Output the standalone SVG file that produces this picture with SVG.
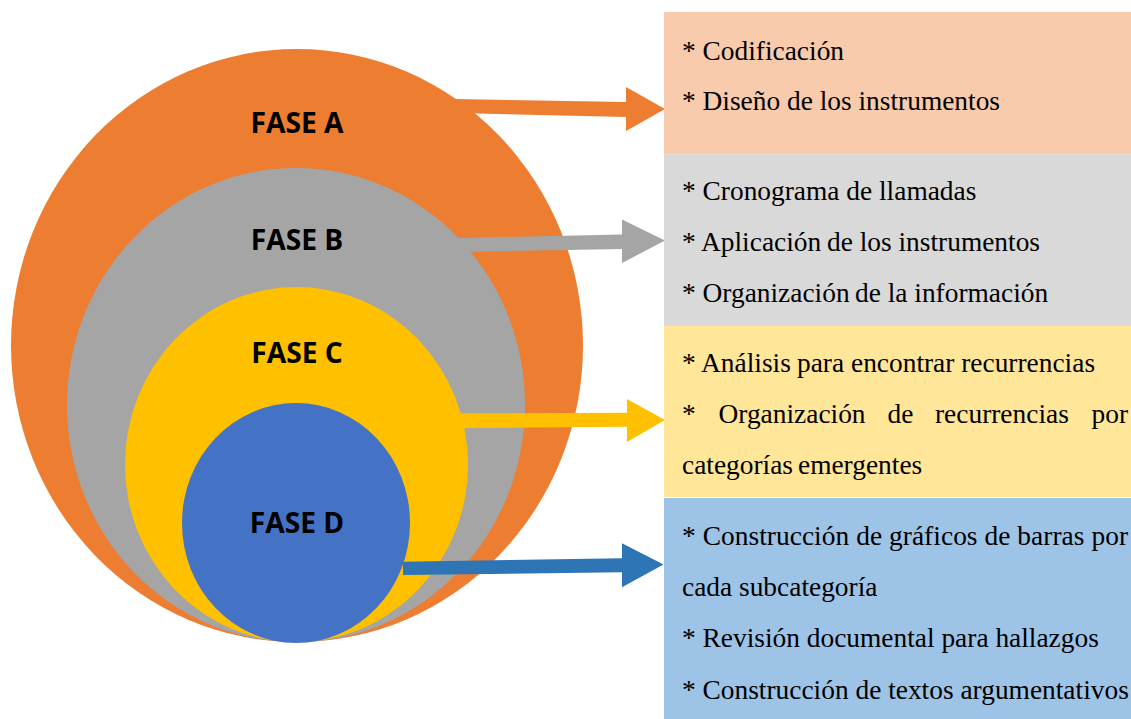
<svg xmlns="http://www.w3.org/2000/svg" width="1131" height="719" viewBox="0 0 1131 719">
<style>
.fase{font-family:"Open Sans","Liberation Sans",sans-serif;font-weight:700;font-size:28.2px;fill:#000;text-anchor:middle}
.t{font-family:"Liberation Serif","DejaVu Serif","Times New Roman",serif;font-size:27.4px;fill:#000}
</style>
<rect width="1131" height="719" fill="#fff"/>
<g id="fase-a"><ellipse cx="297" cy="345.5" rx="286" ry="296.5" fill="#ED7D31"/><text class="fase" x="297" y="133">FASE A</text></g>
<g id="fase-b"><ellipse cx="296" cy="405" rx="229" ry="237" fill="#A5A5A5"/><text class="fase" x="297" y="250">FASE B</text></g>
<g id="fase-c"><ellipse cx="296.5" cy="464.5" rx="171.5" ry="177.5" fill="#FFC000"/><text class="fase" x="297" y="363">FASE C</text></g>
<g id="fase-d"><ellipse cx="296" cy="523" rx="114" ry="120" fill="#4472C4"/><text class="fase" x="297" y="533">FASE D</text></g>
<g id="connectors">
<polygon fill="#ED7D31" points="455,99 626,102 626,87 665,109 626,131 626,117 455,113"/>
<polygon fill="#A5A5A5" points="455,238 622,234.5 622,219.5 665,240.5 622,263 622,249 455,252"/>
<polygon fill="#FFC000" points="460,413.5 627,412.7 627,399 665,420 627,442 627,426.7 460,428.3"/>
<polygon fill="#2E75B6" points="403,561.7 622,558.3 622,543.3 663.5,564.5 622,587.3 622,572.3 403,575"/>
</g>
<g id="box-a"><rect x="664" y="12" width="467" height="142.5" fill="#F8CBAD"/>
<text class="t" x="682" y="60">* Codificación</text>
<text class="t" x="682" y="110">* Diseño de los instrumentos</text></g>
<g id="box-b"><rect x="664" y="154.5" width="467" height="171.5" fill="#D9D9D9"/>
<text class="t" x="682" y="200">* Cronograma de llamadas</text>
<text class="t" y="251"><tspan x="682">* Aplicación</tspan><tspan x="827">de los instrumentos</tspan></text>
<text class="t" y="302"><tspan x="682">* Organización</tspan><tspan x="855">de la información</tspan></text></g>
<g id="box-c"><rect x="664" y="326" width="467" height="171" fill="#FFE699"/>
<text class="t" y="372"><tspan x="682">* Análisis</tspan><tspan x="797">para encontrar recurrencias</tspan></text>
<text class="t" y="422.5"><tspan x="682">*</tspan><tspan x="718.5">Organización</tspan><tspan x="887.5">de</tspan><tspan x="935">recurrencias</tspan></text>
<text class="t" x="1128" y="422.5" text-anchor="end">por</text>
<text class="t" y="474"><tspan x="682">categorías</tspan><tspan x="798">emergentes</tspan></text></g>
<g id="box-d"><rect x="664" y="498" width="467" height="221" fill="#9DC3E6"/>
<text class="t" x="682" y="545" textLength="446" lengthAdjust="spacing">* Construcción de gráficos de barras por</text>
<text class="t" x="682" y="596">cada subcategoría</text>
<text class="t" x="682" y="647">* Revisión documental para hallazgos</text>
<text class="t" x="682" y="698.5">* Construcción de textos argumentativos</text></g>
</svg>
